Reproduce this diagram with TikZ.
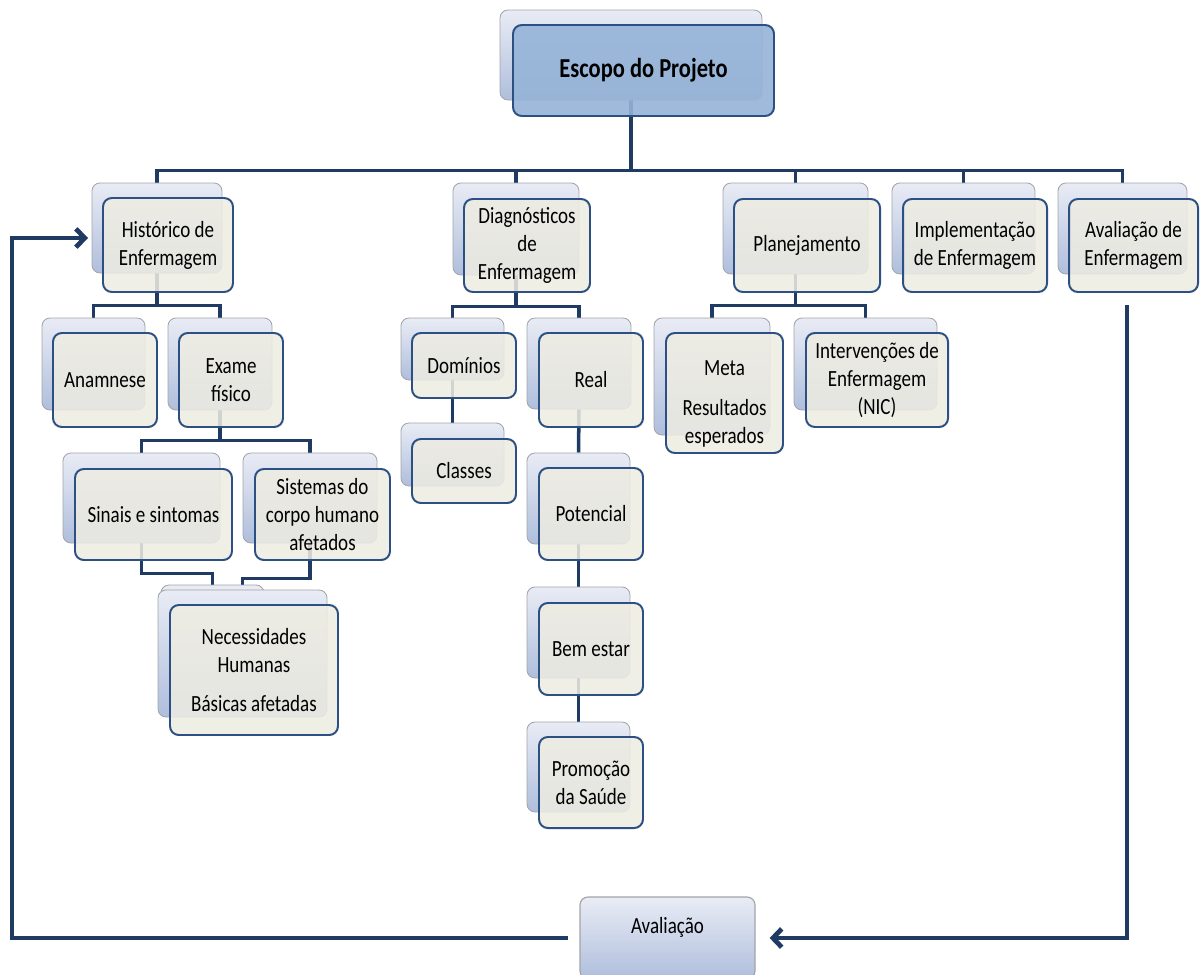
\documentclass[tikz,border=0pt]{standalone}
\usepackage{fontspec}
\setmainfont{Carlito}[FakeStretch=0.82]
\usetikzlibrary{arrows.meta}
\definecolor{navy}{HTML}{1F3B64}
\definecolor{cardline}{HTML}{2C5083}
\definecolor{cream}{HTML}{EEECE2}
\definecolor{backtop}{HTML}{E9ECF5}
\definecolor{backbot}{HTML}{AFBEDC}
\definecolor{cardgray}{HTML}{A2A4A8}
\definecolor{titleblue}{HTML}{95B3D7}
\pgfdeclarelayer{bg}
\pgfsetlayers{bg,main}

\begin{document}
\begin{tikzpicture}[
  x=0.025cm,y=-0.025cm,
  spot/.style n args={4}{at={({(#1+#3)/2},{(#2+#4)/2})},minimum width={(#3-#1)*0.025cm},minimum height={(#4-#2)*0.025cm}},
  back/.style={draw=cardgray,line width=0.6pt,top color=backtop,bottom color=backbot,rounded corners=2mm,inner sep=0pt},
  front/.style={draw=cardline,line width=1.4pt,fill=cream,fill opacity=0.86,text opacity=1,rounded corners=2.2mm,inner sep=0pt,align=center,font=\fontsize{16.5}{20}\selectfont},
  titlebox/.style={front,fill=titleblue,fill opacity=0.9,font=\bfseries\fontsize{19.5}{23}\selectfont},
  evalbox/.style={draw=cardgray,line width=0.8pt,top color=backtop,bottom color=backbot,rounded corners=2mm,inner xsep=0pt,inner ysep=0pt,text height=0.915cm,text depth=1.135cm,font=\fontsize{16.5}{20}\selectfont},
  conn/.style={draw=navy,line width=2.5pt},
  loop/.style={draw=navy,line width=3.4pt,-{Straight Barb[length=2.2mm,width=4.6mm]}}
]
  \useasboundingbox (0,0) rectangle (1200,974);

  \node[back,spot={500}{10}{762}{100}] (esc-b) {};
  \node[titlebox,spot={513}{25}{774}{116}] (esc) {Escopo do Projeto};

  \node[back,spot={92}{183}{222}{273}] (hist-b) {};
  \node[front,spot={103}{198}{233}{292}] (hist) {Histórico de\\Enfermagem};
  \node[back,spot={453}{183}{579}{275}] (diag-b) {};
  \node[front,spot={464}{199}{590}{292}] (diag) {Diagnósticos\\de\\Enfermagem};
  \node[back,spot={723}{183}{868}{274}] (plan-b) {};
  \node[front,spot={734}{199}{880}{292}] (plan) {Planejamento};
  \node[back,spot={892}{183}{1035}{274}] (impl-b) {};
  \node[front,spot={903}{199}{1047}{292}] (impl) {Implementação\\de Enfermagem};
  \node[back,spot={1058}{183}{1187}{274}] (avl-b) {};
  \node[front,spot={1069}{199}{1198}{292}] (avl) {Avaliação de\\Enfermagem};

  \node[back,spot={42}{318}{145}{410}] (anam-b) {};
  \node[front,spot={53}{333}{157}{427}] (anam) {Anamnese};
  \node[back,spot={168}{318}{272}{410}] (exam-b) {};
  \node[front,spot={179}{333}{283}{427}] (exam) {Exame\\físico};
  \node[back,spot={63}{453}{220}{543}] (sin-b) {};
  \node[front,spot={75}{469}{232}{560}] (sin) {Sinais e sintomas};
  \node[back,spot={243}{453}{377}{543}] (sis-b) {};
  \node[front,spot={255}{469}{390}{560}] (sis) {Sistemas do\\corpo humano\\afetados};
  \node[back,spot={161}{585}{264}{712}] (nec-b1) {};
  \node[back,spot={158}{590}{327}{717}] (nec-b2) {};
  \node[front,spot={170}{605}{338}{735}] (nec) {Necessidades\\Humanas\\[8pt]Básicas afetadas};

  \node[back,spot={401}{318}{504}{380}] (dom-b) {};
  \node[front,spot={412}{333}{516}{398}] (dom) {Domínios};
  \node[back,spot={401}{423}{504}{486}] (cla-b) {};
  \node[front,spot={412}{439}{516}{503}] (cla) {Classes};
  \node[back,spot={527}{318}{631}{409}] (real-b) {};
  \node[front,spot={539}{333}{643}{427}] (real) {Real};
  \node[back,spot={527}{453}{630}{544}] (pot-b) {};
  \node[front,spot={539}{468}{643}{560}] (pot) {Potencial};
  \node[back,spot={527}{587}{630}{678}] (bem-b) {};
  \node[front,spot={539}{603}{643}{695}] (bem) {Bem estar};
  \node[back,spot={527}{722}{630}{812}] (prom-b) {};
  \node[front,spot={539}{737}{643}{828}] (prom) {Promoção\\da Saúde};

  \node[back,spot={654}{318}{770}{435}] (meta-b) {};
  \node[front,spot={666}{333}{783}{453}] (meta) {\rule{0pt}{26pt}Meta\\[8pt]Resultados\\esperados};
  \node[back,spot={794}{318}{937}{410}] (int-b) {};
  \node[front,spot={806}{333}{948}{427}] (int) {Intervenções de\\Enfermagem\\(NIC)};

  \node[evalbox,spot={580}{897}{755}{979}] (aval) {Avaliação};

  \begin{pgfonlayer}{bg}
    \draw[conn] (esc-b.south) -- ++(0,70) coordinate (bus);
    \draw[conn] (bus) -| (hist-b.north);
    \draw[conn] (bus) -| (diag-b.north);
    \draw[conn] (bus) -| (plan-b.north);
    \draw[conn] (bus) -| (impl-b.north);
    \draw[conn] (bus) -| (avl-b.north);

    \draw[conn] (hist-b.south) -- ++(0,32) coordinate (hbus);
    \draw[conn] (hbus) -| (anam-b.north);
    \draw[conn] (hbus) -| (exam-b.north);
    \draw[conn] (exam-b.south) -- ++(0,30) coordinate (ebus);
    \draw[conn] (ebus) -| (sin-b.north);
    \draw[conn] (ebus) -| (sis-b.north);
    \draw[conn] (sin-b.south) -- ++(0,30) -| (nec-b1.north);
    \draw[conn] (sis-b.south) -- ++(0,35) -| (nec-b2.north);

    \draw[conn] (diag-b.south) -- ++(0,31) coordinate (dbus);
    \draw[conn] (dbus) -| (dom-b.north);
    \draw[conn] (dbus) -| (real-b.north);
    \draw[conn] (dom-b.south) -- (cla-b.north);
    \draw[conn] (real-b.south) -- (pot-b.north);
    \draw[conn] (pot-b.south) -- (bem-b.north);
    \draw[conn] (bem-b.south) -- (prom-b.north);

    \draw[conn] (plan-b.south) -- ++(0,31) coordinate (pbus);
    \draw[conn] (pbus) -| (meta-b.north);
    \draw[conn] (pbus) -| (int-b.north);
  \end{pgfonlayer}

  \coordinate (fb) at (1127,305);
  \coordinate (lft) at (12,238);
  \coordinate (fbin) at (88,238);
  \draw[loop] (fb) |- ([xshift=10pt]aval.east);
  \draw[loop] ([xshift=-8pt]aval.west) -| (lft) -- (fbin);
\end{tikzpicture}
\end{document}
